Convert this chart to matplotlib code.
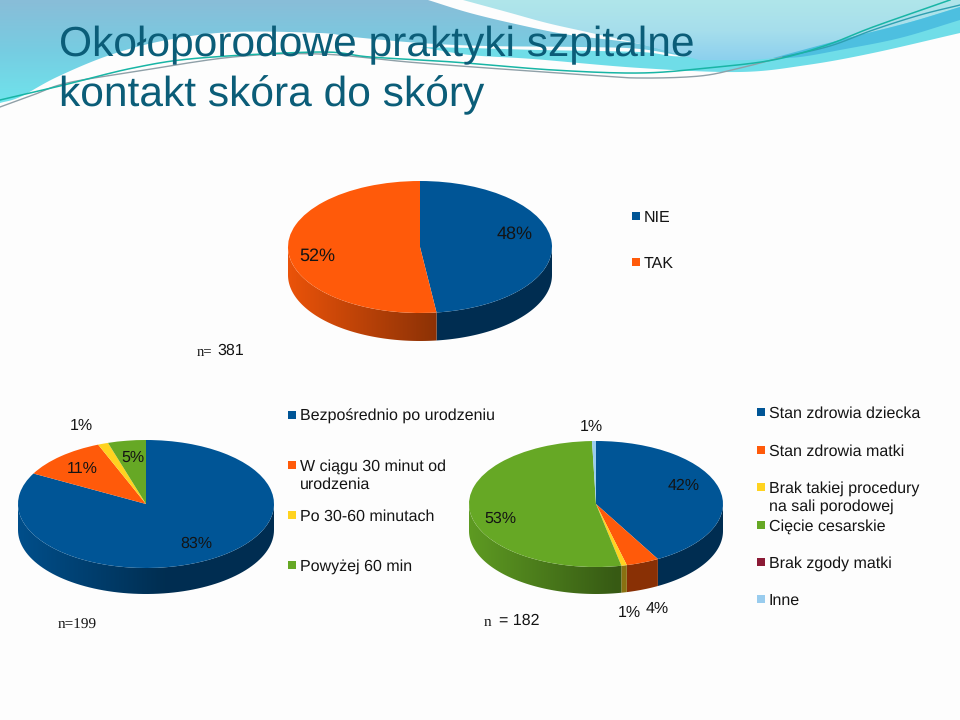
import matplotlib
matplotlib.use("Agg")
import matplotlib.pyplot as plt
from matplotlib.colors import to_rgb, LinearSegmentedColormap
from matplotlib.patches import Polygon, Rectangle
import numpy as np

plt.rcParams["font.family"] = ["Liberation Sans", "DejaVu Sans"]
plt.rcParams["text.hinting"] = "none"

BLUE = "#005596"
ORANGE = "#FF5A0A"
YELLOW = "#FFD320"
GREEN = "#66A825"
DARKRED = "#8B1A35"
SKY = "#99CCEE"

pie1_values = [48, 52]
pie1_colors = [BLUE, ORANGE]
pie1_labels = ["48%", "52%"]
pie1_legend = ["NIE", "TAK"]

pie2_values = [82.9, 11, 1.3, 4.8]
pie2_colors = [BLUE, ORANGE, YELLOW, GREEN]
pie2_labels = ["83%", "11%", "1%", "5%"]
pie2_legend = ["Bezpośrednio po urodzeniu", "W ciągu 30 minut od\nurodzenia", "Po 30-60 minutach", "Powyżej 60 min"]

pie3_values = [41.9, 4.2, 0.7, 52.7, 0, 0.5]
pie3_colors = [BLUE, ORANGE, YELLOW, GREEN, DARKRED, SKY]
pie3_labels = ["42%", "4%", "1%", "53%", "", "1%"]
pie3_legend = ["Stan zdrowia dziecka", "Stan zdrowia matki", "Brak takiej procedury\nna sali porodowej",
               "Cięcie cesarskie", "Brak zgody matki", "Inne"]

W, H = 960, 720
TEXT = "#141414"
FS = 11.5


def smooth(pts, n=16):
    # catmull-rom through the given points
    p = np.array(pts, dtype=float)
    p = np.vstack([2 * p[0] - p[1], p, 2 * p[-1] - p[-2]])
    out = []
    for i in range(1, len(p) - 2):
        t = np.linspace(0, 1, n, endpoint=False)[:, None]
        out.append(0.5 * (2 * p[i] + (p[i + 1] - p[i - 1]) * t
                          + (2 * p[i - 1] - 5 * p[i] + 4 * p[i + 1] - p[i + 2]) * t ** 2
                          + (3 * p[i] - p[i - 1] - 3 * p[i + 1] + p[i + 2]) * t ** 3))
    out.append(p[-2:-1])
    return np.vstack(out)


def gradient_shape(ax, outline, colors, extent, vertical=True):
    cmap = LinearSegmentedColormap.from_list("g", colors)
    g = np.linspace(0, 1, 128)
    g = g[:, None] if vertical else g[None, :]
    im = ax.imshow(g, cmap=cmap, extent=extent, aspect="auto", zorder=1)
    poly = Polygon(outline, closed=True, transform=ax.transData, fc="none", ec="none")
    ax.add_patch(poly)
    im.set_clip_path(poly)


def draw_header(ax):
    # lower cyan band, runs under the pale shape on the right
    band_low = smooth([(420, 47), (470, 55), (533, 59), (640, 68), (740, 72), (807, 65), (873, 53), (960, 33)])
    band_top = smooth([(960, 5), (800, 40), (692, 56), (640, 52), (540, 50), (470, 48), (420, 47)])
    gradient_shape(ax, np.vstack([band_low, band_top]), ["#72DEE9", "#6FDDE8"], (400, 960, 80, 0))

    # big left shape
    low = smooth([(0, 103), (20, 97), (57, 77), (110, 55), (167, 40), (233, 32), (320, 33),
                  (353, 37), (420, 43), (487, 46), (580, 47), (640, 49), (692, 58)])
    top = smooth([(692, 58), (640, 44), (570, 35), (520, 25), (470, 13), (428, 0)])
    gradient_shape(ax, np.vstack([low, top, [(0, 0)]]), ["#89BDD8", "#76CDE2", "#6FE4EC"], (0, 700, 104, 0))

    # pale top right
    pale = np.vstack([smooth([(463, 0), (507, 12), (547, 23), (587, 32), (640, 44), (692, 58), (707, 60),
                              (773, 58), (840, 40), (907, 23), (960, 7)]), [(960, 0)]])
    gradient_shape(ax, pale, ["#B0E6EA", "#A6DEEC", "#8ACFEE"], (460, 960, 62, 0))

    # darker band on the right
    dark_top = smooth([(773, 58), (840, 40), (907, 23), (960, 7)])
    dark_low = smooth([(960, 20), (900, 38), (840, 50), (800, 57), (773, 58)])
    ax.add_patch(Polygon(np.vstack([dark_top, dark_low]), fc="#4DBFE0", ec="none", zorder=2))

    line1 = smooth([(0, 100), (60, 86), (133, 68), (200, 58), (320, 52), (370, 57), (453, 62), (553, 70),
                    (640, 73), (707, 68), (773, 60), (827, 45), (873, 27), (950, 0)])
    line2 = smooth([(0, 107), (33, 95), (67, 83), (133, 72), (233, 57), (320, 54), (420, 63), (587, 75),
                    (640, 78), (700, 76), (740, 68), (783, 57)])
    line3 = smooth([(783, 57), (830, 46), (873, 30), (920, 15), (960, 5)])
    ax.plot(line2[:, 0], line2[:, 1], color="#8FA0A8", lw=1.0, zorder=3)
    ax.plot(line3[:, 0], line3[:, 1], color="#2E9FB0", lw=1.0, zorder=3)
    ax.plot(line1[:, 0], line1[:, 1], color="#18B5A5", lw=1.1, zorder=3)


def pie_3d(fig, values, colors, cx, cy, rx, ry, depth):
    d = depth / ry
    ax = fig.add_axes([(cx - rx) / W, 1 - (cy + ry + depth) / H, 2 * rx / W, (2 * ry + depth) / H])
    ax.pie(values, colors=colors, startangle=90, counterclock=False, radius=1,
           wedgeprops={"linewidth": 0})

    # side wall, only the front half of the rim shows
    xs = np.linspace(-1, 1, 256)
    shade = np.interp(xs, [-1, 0.15, 1], [0.92, 0.54, 0.54])
    edges = np.cumsum([0] + list(values)) / np.sum(values) * 2 * np.pi
    for start, end, col in zip(edges[:-1], edges[1:], colors):
        a0, a1 = max(start, np.pi / 2), min(end, 3 * np.pi / 2)
        if a1 <= a0:
            continue
        th = np.linspace(a0, a1, 80)
        rim = np.column_stack([np.sin(th), np.cos(th)])
        wall = np.vstack([rim, rim[::-1] - [0, d]])
        img = shade[None, :, None] * np.array(to_rgb(col))[None, None, :]
        im = ax.imshow(img, extent=(-1, 1, -1 - d, 1), aspect="auto", zorder=0.5)
        poly = Polygon(wall, closed=True, transform=ax.transData, fc="none", ec="none")
        ax.add_patch(poly)
        im.set_clip_path(poly)
    ax.set_aspect("auto")
    ax.set_xlim(-1, 1)
    ax.set_ylim(-1 - d, 1)
    return ax


def legend_items(ax, items, colors, x, ys):
    for name, col, y in zip(items, colors, ys):
        ax.add_patch(Rectangle((x, y - 4), 8, 8, fc=col, ec="none", zorder=4))
        ax.text(x + 12, y - 6, name, fontsize=FS, color=TEXT, va="top", ha="left",
                linespacing=1.27, zorder=5)


fig = plt.figure(figsize=(W / 100, H / 100), dpi=100, facecolor="#FDFDFD")
bg = fig.add_axes([0, 0, 1, 1])
draw_header(bg)
bg.set_xlim(0, W)
bg.set_ylim(H, 0)
bg.axis("off")

pie_3d(fig, pie1_values, pie1_colors, 420, 247, 132, 66, 28)
pie_3d(fig, pie2_values, pie2_colors, 146, 504, 128, 64, 26)
pie_3d(fig, pie3_values, pie3_colors, 596, 504, 127, 63, 27)

# text goes on its own overlay so it sits above the pies
top = fig.add_axes([0, 0, 1, 1], facecolor="none")
top.set_xlim(0, W)
top.set_ylim(H, 0)
top.axis("off")

top.text(59, 56, "Okołoporodowe praktyki szpitalne", fontsize=30.6, color="#0B5D78", va="baseline")
top.text(59, 106, "kontakt skóra do skóry", fontsize=30.6, color="#0B5D78", va="baseline")

for txt, (x, y) in zip(pie1_labels, [(515, 234), (317, 256)]):
    top.text(x, y, txt, fontsize=13, color=TEXT, ha="center", va="center")
for txt, (x, y) in zip(pie2_labels, [(196, 544), (82, 469), (81, 426), (133, 458)]):
    top.text(x, y, txt, fontsize=FS, color=TEXT, ha="center", va="center")
for txt, (x, y) in zip(pie3_labels, [(684, 486), (657, 609), (629, 613), (500, 519), (0, 0), (591, 427)]):
    if txt:
        top.text(x, y, txt, fontsize=FS, color=TEXT, ha="center", va="center")

legend_items(top, pie1_legend, pie1_colors, 632, [216, 262])
legend_items(top, pie2_legend, pie2_colors, 288, [415, 465, 515, 565])
legend_items(top, pie3_legend, pie3_colors, 757, [412, 450, 487, 525, 562, 599])

top.text(197, 352, "n=", family="Liberation Serif", fontsize=10.5, color=TEXT, va="center")
top.text(217, 351, "381", fontsize=FS, color=TEXT, va="center")
top.text(58, 625, "n=199", family="Liberation Serif", fontsize=11, color=TEXT, va="center")
top.text(484, 622, "n", family="Liberation Serif", fontsize=11, color=TEXT, va="center")
top.text(499, 621, "= 182", fontsize=FS, color=TEXT, va="center")

fig.savefig("out.png", dpi=100, facecolor=fig.get_facecolor())
